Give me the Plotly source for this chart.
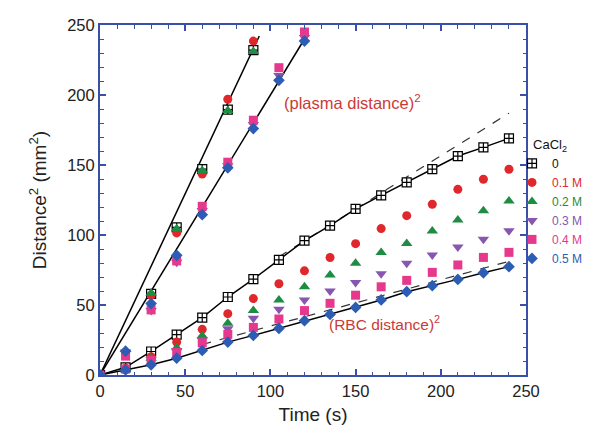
import numpy as np
import plotly.graph_objects as go

# RBC front: distance^2 (mm^2) sampled every 15 s
rbc_time = [0, 15, 30, 45, 60, 75, 90, 105, 120, 135, 150, 165, 180, 195, 210, 225, 240]
rbc_0 = [0, 5.5, 16.8, 28.8, 41, 55.7, 68.5, 82.3, 96, 106.7, 118.6, 128.3, 137.6, 147, 156.4, 162.6, 169]
rbc_01 = [0, 4.8, 13, 23.5, 32.6, 43.8, 54.6, 65.2, 74.4, 83.9, 93.8, 104.6, 113.8, 122, 132.6, 139.8, 147]
rbc_02 = [0, 4.5, 12, 19.5, 28, 37, 46, 53.6, 63, 71.4, 79.8, 87.5, 94, 102.9, 110.7, 117.4, 124.3]
rbc_03 = [0, 4.3, 11, 17.5, 25, 33, 40.5, 46.9, 53.6, 60, 66, 72.3, 79.8, 85.7, 91.4, 97, 103]
rbc_04 = [0, 4.2, 10.5, 16, 23, 29, 34, 40, 46, 51.2, 57, 63, 67.6, 73.3, 78.6, 84, 87.6]
rbc_05 = [0, 3.6, 7.3, 12, 17.5, 23.5, 28.3, 33.3, 38.8, 43.3, 48.3, 53.6, 59.5, 63.8, 68.3, 73, 77.4]

# Plasma front: distance^2 (mm^2)
plasma_time_fast = [0, 30, 45, 60, 75, 90]
plasma_0 = [0, 58, 105.5, 147, 189.5, 232]
plasma_01 = [0, 57, 101.5, 143.5, 197, 238.5]
plasma_02 = [0, 58.5, 104.5, 146, 189, 231]
plasma_time_slow = [0, 15, 30, 45, 60, 75, 90, 105, 120]
plasma_03 = [0, 16.5, 46, 80.5, 117.5, 149.5, 179, 214, 241]
plasma_04 = [0, 13.5, 46.5, 81.5, 120.5, 152, 182, 219.5, 245]
plasma_05 = [0, 17, 51, 85.5, 114.5, 148, 176, 210.5, 238.5]

# Linear fits: (t_start, t_end, intercept, slope)
plasma_fits = [(0, 93.5, 0.0, 2.59), (0, 120, 0.0, 2.0)]
rbc_dashed_fits = [(105, 240, 4.6, 0.76), (60, 240, 2.0, 0.33)]

concentrations = ["0", "0.1 M", "0.2 M", "0.3 M", "0.4 M", "0.5 M"]
colors = ["#111111", "#e0282c", "#1e8c42", "#8656b0", "#e6388c", "#2c5cb4"]
symbols = ["square-cross", "circle", "triangle-up", "triangle-down", "square", "diamond"]
sizes = [9, 9, 10, 10, 9, 9]

rbc_series = [rbc_0, rbc_01, rbc_02, rbc_03, rbc_04, rbc_05]
plasma_series = [plasma_0, plasma_01, plasma_02, plasma_03, plasma_04, plasma_05]
plasma_times = [plasma_time_fast] * 3 + [plasma_time_slow] * 3

AXIS_BLUE = "#3a50a8"
LABEL_RED = "#cc3a36"
FONT = "Arial, Liberation Sans, Helvetica, sans-serif"

fig = go.Figure()

# fit lines for the plasma front
for t0, t1, b, m in plasma_fits:
    t = np.array([t0, t1])
    fig.add_trace(go.Scatter(x=t, y=b + m * t, mode="lines",
                             line=dict(color="black", width=1.5),
                             showlegend=False, hoverinfo="skip"))

# dashed linear fits for the RBC front
for t0, t1, b, m in rbc_dashed_fits:
    t = np.array([t0, t1])
    fig.add_trace(go.Scatter(x=t, y=b + m * t, mode="lines",
                             line=dict(color="#333333", width=1.2, dash="dash"),
                             showlegend=False, hoverinfo="skip"))

# solid lines through the 0 M and 0.5 M RBC data
for ys in (rbc_0, rbc_05):
    fig.add_trace(go.Scatter(x=rbc_time, y=ys, mode="lines",
                             line=dict(color="black", width=1.5),
                             showlegend=False, hoverinfo="skip"))

def marker_style(i):
    if i == 0:
        return dict(symbol=symbols[i], size=sizes[i], color="white",
                    line=dict(color="black", width=1.2))
    return dict(symbol=symbols[i], size=sizes[i], color=colors[i],
                line=dict(width=0))

# plasma markers (drawn first, no legend entries)
for i in range(6):
    fig.add_trace(go.Scatter(x=plasma_times[i], y=plasma_series[i], mode="markers",
                             marker=marker_style(i), legendgroup=concentrations[i],
                             showlegend=False))

# RBC markers with legend entries
for i in range(6):
    name = f"<span style='color:{colors[i]}'>{concentrations[i]}</span>"
    fig.add_trace(go.Scatter(x=rbc_time, y=rbc_series[i], mode="markers",
                             marker=marker_style(i), name=name,
                             legendgroup=concentrations[i]))

axis_common = dict(
    showline=True, linecolor=AXIS_BLUE, linewidth=2, mirror="allticks",
    ticks="inside", ticklen=6, tickwidth=1.5, tickcolor=AXIS_BLUE,
    showgrid=False, zeroline=False,
    tickfont=dict(family=FONT, size=16.5, color="#222222"),
    minor=dict(ticks="inside", ticklen=3.5, tickwidth=1.2, tickcolor=AXIS_BLUE,
               dtick=10, showgrid=False),
)

fig.update_layout(
    width=589, height=436,
    margin=dict(l=100, r=63, t=25, b=61, autoexpand=False),
    plot_bgcolor="white", paper_bgcolor="white",
    font=dict(family=FONT, color="#222222"),
    xaxis=dict(range=[0, 250], dtick=50, tick0=0,
               title=dict(text="Time (s)", font=dict(family=FONT, size=19), standoff=9),
               **axis_common),
    yaxis=dict(range=[0, 250], dtick=50, tick0=0,
               title=dict(text="Distance<sup>2</sup> (mm<sup>2</sup>)",
                          font=dict(family=FONT, size=19), standoff=16),
               **axis_common),
    legend=dict(xref="container", yref="container", x=512 / 589, y=1 - 132 / 436,
                xanchor="left", yanchor="top",
                title=dict(text="CaCl<sub>2</sub>", side="top center",
                           font=dict(family=FONT, size=13, color="#111111")),
                font=dict(family=FONT, size=12), bgcolor="rgba(0,0,0,0)",
                borderwidth=0, tracegroupgap=0, itemwidth=30),
    showlegend=True,
)

fig.add_annotation(x=148, y=195, xref="x", yref="y", showarrow=False,
                   text="(plasma distance)<sup>2</sup>",
                   font=dict(family=FONT, size=16.5, color=LABEL_RED))
fig.add_annotation(x=167, y=37, xref="x", yref="y", showarrow=False,
                   text="(RBC distance)<sup>2</sup>",
                   font=dict(family=FONT, size=15.5, color=LABEL_RED))

fig.write_html("out.html")
